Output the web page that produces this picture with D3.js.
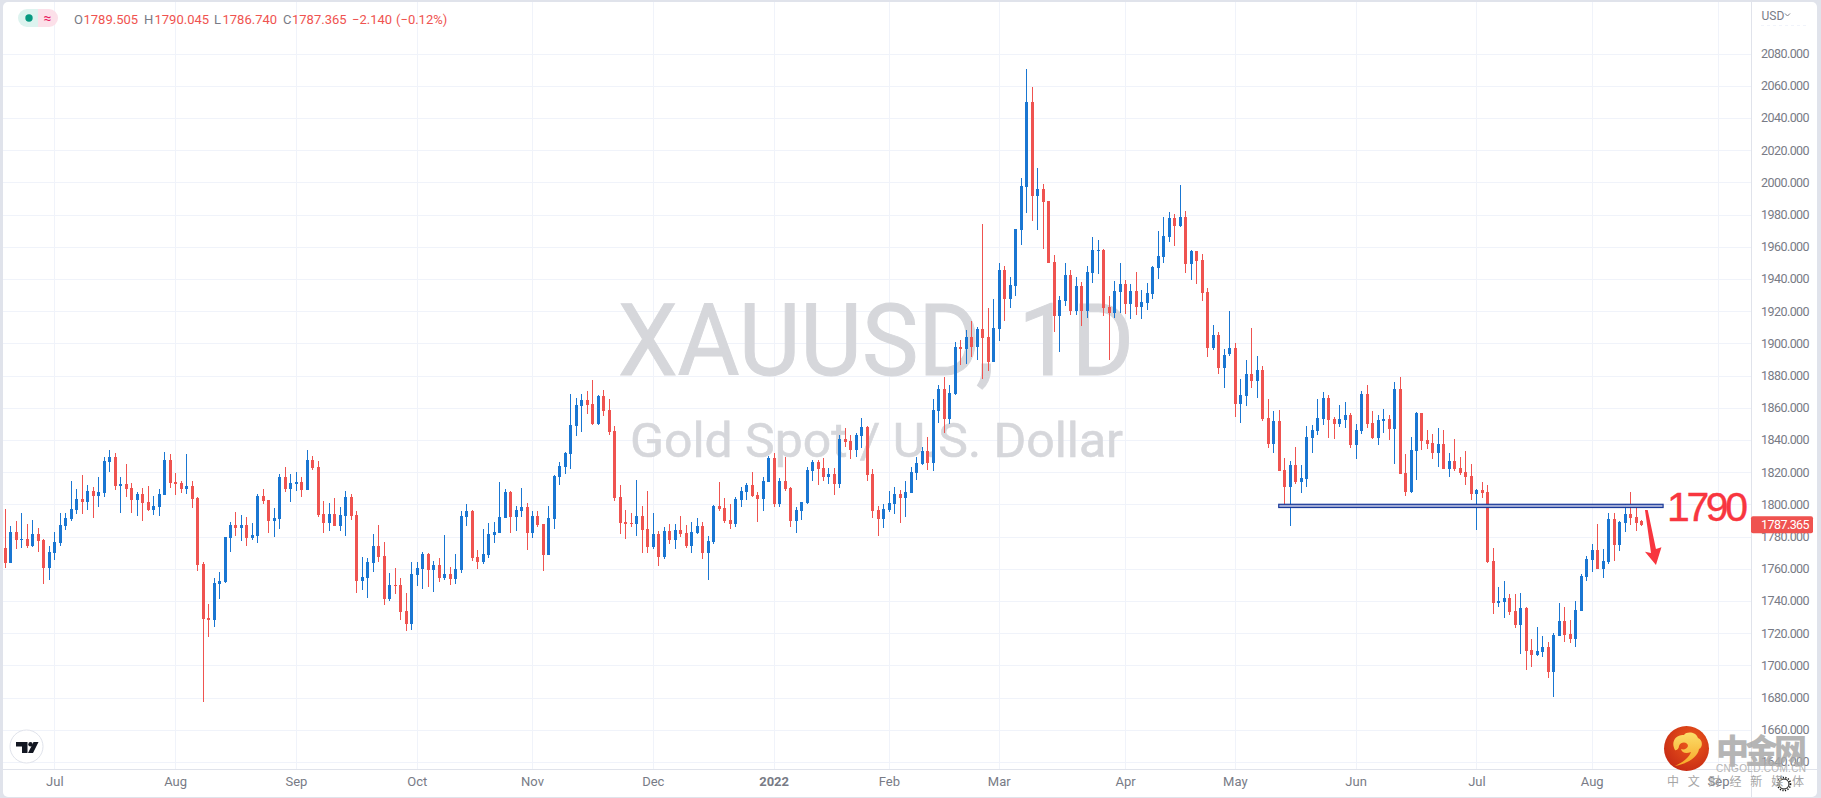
<!DOCTYPE html>
<html><head><meta charset="utf-8">
<script src="https://cdnjs.cloudflare.com/ajax/libs/d3/7.8.5/d3.min.js"></script>
<style>html,body{margin:0;padding:0;background:#E0E3EB;overflow:hidden}svg{display:block}text{font-family:Roboto,sans-serif}</style>
</head><body><svg id="c" width="1821" height="798"></svg>
<script>
const highs=[1797.1,1786.6,1789.7,1794.6,1787.8,1790.3,1785.3,1778.5,1774.1,1782.8,
1794.6,1794.6,1814.5,1809.5,1818.2,1812.0,1810.8,1817.0,1829.4,1833.8,
1831.9,1817.0,1825.1,1813.3,1807.7,1810.2,1811.4,1805.2,1809.5,1832.5,
1831.3,1819.5,1814.5,1831.3,1814.5,1804.6,1764.2,1738.1,1754.3,1758.0,
1779.7,1789.0,1795.3,1793.4,1792.1,1788.4,1806.4,1809.5,1802.7,1797.7,
1818.9,1823.2,1818.9,1820.1,1817.0,1833.8,1830.0,1826.9,1802.1,1800.8,
1804.0,1798.4,1808.3,1806.4,1795.9,1767.3,1766.6,1781.5,1787.1,1776.6,
1757.3,1760.4,1754.2,1744.9,1764.2,1764.2,1770.4,1769.7,1764.8,1766.6,
1780.9,1761.0,1769.1,1795.8,1800.2,1796.4,1771.6,1784.6,1788.4,1789.0,
1813.8,1809.5,1808.2,1798.9,1810.1,1800.8,1795.8,1795.8,1787.8,1798.9,
1818.2,1826.3,1832.5,1868.5,1866.0,1868.5,1870.3,1877.2,1867.9,1871.0,
1865.4,1848.6,1812.0,1796.4,1794.6,1815.1,1798.9,1808.2,1794.6,1783.4,
1785.9,1787.8,1787.8,1792.7,1787.1,1789.0,1791.5,1789.0,1780.3,1799.6,
1813.9,1803.9,1800.2,1804.5,1810.8,1813.2,1820.1,1807.6,1817.0,1830.0,
1831.9,1816.4,1829.4,1810.8,1798.3,1801.5,1823.2,1827.5,1827.5,1828.8,
1822.6,1822.6,1843.0,1847.4,1843.0,1844.3,1853.6,1848.6,1822.0,1799.0,
1800.2,1808.3,1810.8,1808.9,1814.5,1823.2,1829.4,1835.6,1841.8,1865.4,
1874.1,1879.1,1874.1,1900.8,1902.1,1908.3,1913.9,1910.2,1974.1,1922.0,
1927.6,1949.9,1948.1,1941.2,1971.0,2002.7,2070.4,2059.2,2008.9,1999.0,
1988.4,1954.9,1929.4,1949.9,1945.6,1941.2,1938.1,1948.1,1966.1,1964.2,
1958.6,1929.4,1938.7,1949.9,1939.4,1936.9,1944.3,1933.1,1937.5,1948.1,
1969.8,1978.5,1981.6,1980.4,1998.4,1982.1,1957.9,1957.3,1955.4,1934.3,
1911.3,1907.0,1896.4,1920.0,1900.2,1877.8,1889.6,1909.5,1892.1,1885.9,
1865.4,1857.9,1858.6,1828.8,1826.9,1835.6,1824.4,1848.6,1849.2,1865.4,
1869.7,1867.9,1854.2,1861.7,1863.5,1856.7,1849.9,1870.4,1874.1,1857.9,
1855.5,1859.2,1855.5,1876.0,1879.1,1831.2,1841.8,1857.3,1856.7,1846.1,
1843.7,1847.4,1846.1,1831.9,1840.6,1829.4,1833.1,1825.0,1809.5,1813.9,
1812.0,1772.9,1748.6,1752.4,1744.3,1744.3,1744.9,1736.2,1716.4,1723.8,
1718.2,1714.5,1720.1,1738.7,1736.2,1728.2,1740.0,1756.7,1767.9,1775.4,
1787.8,1772.2,1794.6,1794.6,1789.6,1800.2,1807.6,1799.0,1790.045];
const lows=[1760.7,1763.6,1772.3,1772.9,1772.9,1773.5,1770.4,1750.5,1753.0,1765.4,
1774.1,1784.1,1789.7,1794.0,1794.0,1796.5,1791.5,1798.4,1804.6,1820.1,
1808.9,1794.6,1804.6,1794.6,1792.8,1789.7,1795.9,1793.4,1792.8,1805.8,
1810.2,1805.8,1807.1,1806.4,1797.7,1758.6,1677.2,1717.6,1723.8,1741.2,
1751.2,1770.4,1780.4,1777.2,1774.1,1777.9,1776.0,1800.2,1782.2,1779.7,
1784.7,1807.7,1801.5,1808.3,1804.6,1808.9,1821.3,1792.1,1782.2,1783.5,
1786.6,1783.5,1780.4,1790.3,1744.9,1746.8,1741.8,1757.9,1764.2,1737.5,
1739.9,1744.3,1728.1,1721.3,1721.9,1749.3,1747.4,1748.6,1745.5,1751.7,
1753.0,1749.9,1750.5,1757.3,1786.5,1764.8,1759.8,1762.9,1766.6,1776.0,
1782.2,1791.5,1782.2,1783.4,1792.1,1771.6,1779.1,1785.9,1758.6,1768.5,
1784.6,1812.0,1818.8,1821.9,1842.4,1844.9,1856.1,1849.2,1849.2,1854.8,
1843.0,1802.0,1781.5,1778.4,1785.9,1780.3,1769.7,1769.7,1772.2,1761.7,
1766.0,1775.3,1772.2,1779.7,1772.9,1769.7,1781.5,1766.0,1753.0,1775.4,
1795.9,1788.4,1784.7,1785.9,1798.3,1802.7,1804.5,1789.0,1795.9,1813.9,
1798.3,1798.3,1808.3,1785.9,1782.2,1790.3,1800.2,1814.5,1812.0,1814.5,
1812.6,1805.8,1810.1,1835.6,1828.2,1829.4,1835.0,1814.5,1791.5,1780.3,
1785.3,1795.3,1794.0,1788.4,1792.1,1807.0,1815.1,1824.4,1821.3,1820.7,
1850.5,1844.3,1849.9,1867.9,1886.6,1887.2,1891.6,1889.7,1877.9,1882.9,
1888.4,1901.5,1913.9,1922.0,1929.4,1961.1,1981.0,1976.0,1970.4,1958.6,
1949.9,1907.1,1894.7,1923.2,1917.6,1917.6,1910.8,1915.8,1937.5,1943.1,
1917.0,1889.7,1915.8,1918.9,1918.3,1915.2,1917.6,1915.2,1920.7,1927.6,
1940.0,1949.9,1963.0,1960.5,1972.3,1943.6,1939.3,1936.8,1926.2,1891.5,
1895.8,1880.9,1872.2,1892.1,1854.2,1850.5,1861.0,1872.2,1866.0,1851.7,
1835.0,1831.9,1820.7,1799.6,1786.5,1812.6,1807.0,1810.7,1831.9,1843.0,
1849.2,1841.2,1840.5,1848.0,1847.4,1835.0,1828.1,1843.7,1847.4,1840.5,
1836.8,1844.3,1839.9,1825.0,1818.8,1805.2,1807.0,1815.1,1833.7,1834.3,
1828.1,1823.2,1821.9,1816.9,1820.7,1818.2,1812.0,1802.7,1784.0,1803.9,
1763.6,1731.9,1736.2,1729.4,1731.3,1723.2,1707.0,1697.1,1699.0,1705.8,
1705.2,1692.1,1680.3,1718.2,1714.5,1713.9,1711.4,1733.7,1752.4,1758.0,
1759.8,1754.2,1762.9,1764.8,1771.0,1782.8,1787.2,1783.4,1786.74];
const opens=[1772.9,1763.6,1782.8,1777.9,1778.5,1774.1,1781.6,1777.9,1760.5,1769.8,
1776.0,1786.6,1790.9,1796.5,1803.3,1801.5,1808.3,1805.2,1807.1,1826.3,
1829.4,1811.4,1812.7,1810.2,1802.7,1806.4,1801.5,1796.5,1798.4,1805.8,
1827.6,1813.9,1813.3,1809.5,1811.4,1804.0,1763.0,1729.4,1728.2,1750.5,
1751.8,1779.1,1787.2,1785.3,1787.2,1779.1,1780.4,1805.2,1802.7,1789.7,
1790.9,1817.0,1809.5,1812.7,1813.9,1808.9,1827.6,1823.2,1794.0,1788.4,
1794.0,1786.6,1792.8,1804.6,1793.4,1752.4,1754.2,1763.5,1774.1,1767.9,
1741.2,1749.9,1749.9,1733.7,1725.7,1756.1,1759.8,1769.1,1759.2,1762.3,
1754.2,1756.7,1753.6,1759.2,1792.1,1795.8,1767.3,1764.2,1768.5,1780.9,
1782.2,1791.5,1807.6,1792.1,1795.8,1798.3,1782.2,1792.7,1787.8,1768.5,
1790.9,1816.9,1823.2,1831.2,1848.6,1861.0,1864.8,1862.3,1849.9,1867.2,
1858.6,1845.5,1804.5,1789.0,1788.4,1787.8,1792.7,1784.6,1773.5,1781.5,
1767.3,1783.4,1777.8,1784.0,1782.2,1774.1,1782.2,1786.5,1769.7,1776.6,
1799.0,1797.7,1790.3,1787.8,1802.7,1807.6,1812.0,1805.8,1803.3,1813.9,
1828.8,1800.2,1814.5,1810.1,1789.6,1795.9,1800.8,1820.7,1826.3,1822.6,
1817.0,1818.8,1812.6,1840.6,1839.3,1833.7,1842.4,1848.0,1818.8,1796.5,
1790.9,1796.5,1800.2,1806.4,1803.9,1807.0,1819.5,1825.1,1833.1,1825.7,
1858.0,1871.6,1853.0,1868.5,1897.8,1896.5,1904.0,1897.8,1909.0,1904.0,
1888.4,1909.0,1945.6,1927.6,1935.6,1970.4,1997.1,2049.9,1991.5,1995.9,
1988.4,1950.6,1917.0,1926.3,1942.5,1920.1,1935.6,1920.1,1943.7,1957.4,
1958.0,1922.6,1918.9,1931.9,1936.9,1924.5,1932.5,1922.6,1925.1,1930.7,
1946.8,1953.6,1966.1,1977.9,1972.9,1978.4,1949.2,1957.3,1951.7,1931.8,
1897.1,1905.1,1884.6,1893.3,1897.1,1862.3,1867.3,1880.9,1876.6,1883.4,
1853.6,1837.4,1851.7,1821.3,1810.7,1824.4,1813.8,1815.7,1841.2,1845.5,
1853.0,1866.0,1853.0,1849.9,1852.4,1855.5,1836.8,1845.5,1868.5,1850.5,
1841.2,1851.7,1853.0,1846.8,1871.6,1819.4,1807.6,1833.1,1856.7,1840.0,
1838.1,1831.9,1837.4,1821.9,1826.9,1822.5,1820.0,1817.6,1806.4,1808.9,
1807.6,1764.8,1738.7,1739.3,1741.8,1733.7,1725.1,1735.6,1709.5,1706.4,
1708.3,1711.4,1695.9,1718.2,1727.5,1719.5,1716.4,1733.7,1754.9,1765.4,
1771.6,1759.8,1764.2,1790.9,1774.7,1788.4,1794.0,1792.1,1789.505];
const closes=[1763.6,1782.8,1777.9,1778.5,1774.1,1781.6,1777.2,1760.5,1770.4,1776.6,
1787.2,1791.5,1797.1,1803.3,1801.5,1808.3,1805.2,1807.7,1826.9,1829.4,
1811.4,1812.7,1809.5,1802.7,1806.4,1800.8,1796.5,1799.0,1806.4,1827.6,
1813.3,1812.7,1809.5,1811.4,1803.3,1762.3,1728.8,1728.2,1751.2,1752.4,
1779.7,1787.2,1785.3,1787.2,1779.1,1781.0,1805.2,1802.1,1789.7,1791.5,
1817.0,1809.5,1813.3,1813.9,1808.9,1827.6,1822.6,1793.4,1788.4,1794.0,
1786.6,1793.4,1804.6,1792.8,1752.4,1754.8,1764.2,1774.1,1767.3,1741.2,
1749.9,1749.3,1733.1,1725.7,1756.7,1760.4,1769.1,1759.2,1762.3,1754.2,
1756.7,1753.6,1759.8,1792.7,1795.8,1766.6,1764.2,1769.1,1781.5,1782.8,
1792.1,1807.6,1792.1,1796.4,1798.3,1782.2,1792.7,1787.1,1768.5,1791.5,
1817.6,1823.8,1831.9,1849.2,1861.7,1864.8,1861.7,1849.9,1867.2,1857.9,
1844.9,1803.9,1788.4,1787.8,1787.8,1792.7,1784.0,1773.5,1781.5,1767.3,
1783.4,1777.8,1784.0,1781.5,1774.1,1782.8,1786.5,1769.7,1777.2,1799.0,
1797.1,1789.6,1787.8,1803.3,1808.3,1812.0,1805.2,1803.3,1814.5,1828.8,
1800.2,1814.5,1809.5,1789.6,1796.5,1801.5,1821.3,1826.3,1821.9,1817.0,
1818.8,1812.6,1840.6,1838.7,1833.7,1843.0,1848.0,1818.2,1795.9,1790.9,
1797.1,1800.8,1806.4,1803.9,1807.6,1820.1,1825.7,1833.1,1825.7,1858.6,
1871.6,1853.0,1869.1,1897.7,1896.5,1904.0,1897.8,1909.0,1903.4,1888.4,
1909.6,1945.6,1927.6,1936.3,1971.0,1997.7,2049.9,1991.5,1995.9,1987.8,
1949.9,1917.0,1926.9,1942.5,1920.1,1935.6,1920.1,1944.3,1958.0,1958.0,
1922.0,1918.9,1932.5,1936.9,1924.5,1932.5,1922.6,1925.7,1931.3,1947.4,
1954.3,1966.7,1977.9,1972.9,1978.5,1949.2,1957.3,1951.1,1931.2,1897.1,
1905.1,1884.6,1893.0,1897.1,1862.3,1867.9,1880.9,1876.6,1883.4,1853.0,
1837.4,1851.7,1820.7,1810.7,1824.4,1813.8,1816.3,1841.8,1846.1,1853.6,
1866.0,1852.4,1849.9,1853.0,1855.5,1836.8,1846.1,1868.5,1849.9,1841.2,
1852.4,1853.0,1846.8,1871.6,1818.8,1807.6,1833.7,1856.7,1839.3,1837.4,
1831.9,1837.4,1821.9,1826.9,1821.9,1819.4,1816.9,1806.4,1808.9,1807.0,
1764.2,1738.7,1739.9,1741.8,1733.1,1725.1,1735.6,1708.9,1706.4,1708.9,
1711.4,1695.9,1718.8,1727.5,1718.8,1716.4,1734.4,1755.5,1766.0,1771.6,
1759.8,1764.8,1790.9,1774.7,1789.0,1794.0,1791.5,1788.4,1787.365];
const priceTicks=[1640,1660,1680,1700,1720,1740,1760,1780,1800,1820,1840,1860,1880,1900,1920,1940,1960,1980,2000,2020,2040,2060,2080];
const monthTickIndex=[9,31,53,75,96,118,140,161,181,204,224,246,268,289,312];
const monthTickLabel=["Jul","Aug","Sep","Oct","Nov","Dec","2022","Feb","Mar","Apr","May","Jun","Jul","Aug","Sep"];
const levelBox={from:232,to:302,top:1800,bottom:1798};
const arrowIndex=[298.7,299.2,300.7,301.7,300.7,298.7,299.8];
const arrowPrice=[1796.5,1796.5,1772.2,1773.4,1762.3,1770.6,1769.8];
const lastPrice=1787.365;

const UP="#1976D2",DOWN="#EF5350",GRID="#F0F3FA",AXIS="#E0E3EB",TXT="#787B86";
const plotR=1751,plotB=769,plotL=3,plotT=2;
const x=d3.scaleLinear().domain([9,312]).range([54.3,1718]);
const y=d3.scaleLinear().domain([1640,2080]).range([761.9,53.5]);
const svg=d3.select("#c");
const defs=svg.append("defs");
defs.append("clipPath").attr("id","plot").append("rect").attr("x",plotL).attr("y",plotT).attr("width",plotR-plotL).attr("height",plotB-plotT);
const lg=defs.append("radialGradient").attr("id","orb").attr("cx","60%").attr("cy","35%").attr("r","70%");
lg.append("stop").attr("offset","0%").attr("stop-color","#EE5A1C");
lg.append("stop").attr("offset","100%").attr("stop-color","#C62A14");
const yg=defs.append("linearGradient").attr("id","swirl").attr("x1","0").attr("y1","0").attr("x2","0").attr("y2","1");
yg.append("stop").attr("offset","0%").attr("stop-color","#FBDD6A");
yg.append("stop").attr("offset","100%").attr("stop-color","#F7A826");

svg.append("rect").attr("x",3).attr("y",2).attr("width",1814).attr("height",795).attr("rx",5).attr("fill","#fff");

const plot=svg.append("g").attr("clip-path","url(#plot)");
plot.append("g").selectAll("line").data(priceTicks).join("line")
 .attr("x1",plotL).attr("x2",plotR).attr("y1",d=>Math.round(y(d))+.5).attr("y2",d=>Math.round(y(d))+.5)
 .attr("stroke",GRID).attr("stroke-width",1);
plot.append("g").selectAll("line").data(monthTickIndex).join("line")
 .attr("y1",plotT).attr("y2",plotB).attr("x1",d=>Math.round(x(d))+.5).attr("x2",d=>Math.round(x(d))+.5)
 .attr("stroke",GRID).attr("stroke-width",1);
const wm=plot.append("g").attr("fill","#D6D7DB").style("font-family","'Noto Sans',sans-serif");
wm.append("text").attr("x",618).attr("y",375).attr("font-size",100).attr("stroke","#D6D7DB").attr("stroke-width",1).attr("textLength",516).attr("lengthAdjust","spacingAndGlyphs").text("XAUUSD, 1D");
wm.append("text").attr("x",630).attr("y",457).attr("font-size",49).attr("stroke","#D6D7DB").attr("stroke-width",.6).attr("textLength",493).attr("lengthAdjust","spacingAndGlyphs").text("Gold Spot / U.S. Dollar");
const idx=d3.range(highs.length);
const col=i=>closes[i]>=opens[i]?UP:DOWN;
const cx=i=>Math.round(x(i));
const g=plot.append("g");
g.selectAll("rect.w").data(idx).join("rect").attr("class","w")
 .attr("x",i=>cx(i)).attr("width",1)
 .attr("y",i=>Math.round(y(highs[i]))).attr("height",i=>Math.max(1,Math.round(y(lows[i]))-Math.round(y(highs[i]))))
 .attr("fill",col);
g.selectAll("rect.b").data(idx).join("rect").attr("class","b")
 .attr("x",i=>cx(i)-1).attr("width",3)
 .attr("y",i=>Math.round(y(Math.max(opens[i],closes[i])))).attr("height",i=>Math.max(1,Math.round(y(Math.min(opens[i],closes[i])))-Math.round(y(Math.max(opens[i],closes[i])))))
 .attr("fill",col);
svg.append("rect").attr("x",x(levelBox.from)).attr("width",x(levelBox.to)-x(levelBox.from))
 .attr("y",y(levelBox.top)).attr("height",y(levelBox.bottom)-y(levelBox.top))
 .attr("fill","#A4AED6").attr("stroke","#1B3A9A").attr("stroke-width",1.2);
svg.append("polygon").attr("points",arrowIndex.map((d,i)=>x(d)+","+y(arrowPrice[i])).join(" ")).attr("fill","#F8363F");
svg.append("text").attr("x",1667).attr("y",520.5).attr("font-size",41).attr("fill","#F8363F").attr("stroke","#F8363F").attr("stroke-width",.4).style("font-family","'Liberation Sans',sans-serif").attr("textLength",81).text("1790");

svg.append("line").attr("x1",plotR+.5).attr("x2",plotR+.5).attr("y1",2).attr("y2",797).attr("stroke",AXIS);
svg.append("line").attr("x1",3).attr("x2",1817).attr("y1",plotB+.5).attr("y2",plotB+.5).attr("stroke",AXIS);
const yAxis=d3.axisRight(y).tickValues(priceTicks).tickFormat(d3.format(".3f")).tickSize(0).tickPadding(10);
const ya=svg.append("g").attr("transform",`translate(${plotR},0)`).call(yAxis);
ya.select(".domain").remove();
ya.selectAll("text").attr("fill",TXT).style("font-family","Roboto,sans-serif").style("font-size","12.5px").style("letter-spacing","-0.55px");
const xAxis=d3.axisBottom(x).tickValues(monthTickIndex).tickFormat((d,i)=>monthTickLabel[i]).tickSize(0).tickPadding(8);
const xa=svg.append("g").attr("transform",`translate(0,${plotB})`).call(xAxis);
xa.select(".domain").remove();
xa.selectAll("text").attr("fill",TXT).style("font-family","Roboto,sans-serif").style("font-size","13px").style("font-weight",d=>d===140?700:400);
const ly=y(lastPrice);
svg.append("rect").attr("x",plotR).attr("y",ly-8.5).attr("width",62).attr("height",17).attr("rx",2).attr("fill",DOWN);
svg.append("text").attr("x",plotR+10).attr("y",ly+4.5).attr("fill","#fff").style("font-size","12.5px").style("letter-spacing","-0.55px").text(d3.format(".3f")(lastPrice));
svg.append("text").attr("x",1761.5).attr("y",19.5).attr("fill",TXT).style("font-size","12px").text("USD");
svg.append("path").attr("d","M1785 13.5l2.5 2.5 2.5-2.5").attr("fill","none").attr("stroke",TXT);
svg.append("line").attr("x1",1761).attr("x2",1806).attr("y1",25.5).attr("y2",25.5).attr("stroke","#F0F3FA").attr("stroke-dasharray","3 3");
svg.append("path").attr("d","M38 9H27a9 9 0 0 0 0 18H38Z").attr("fill","#DDF3EF");
svg.append("path").attr("d","M38 9H49a9 9 0 0 1 0 18H38Z").attr("fill","#FCE0E9");
svg.append("circle").attr("cx",29).attr("cy",18).attr("r",3.7).attr("fill","#089981");
svg.append("text").attr("x",47.5).attr("y",23).attr("text-anchor","middle").attr("fill","#E91E63").style("font-size","14px").text("≈");
const legendParts=[[74,"O",TXT],[83.5,"1789.505",DOWN],[144,"H",TXT],[154.5,"1790.045",DOWN],[214,"L",TXT],[222.5,"1786.740",DOWN],[283,"C",TXT],[292,"1787.365",DOWN],[352,"−2.140",DOWN],[396,"(−0.12%)",DOWN]];
svg.append("g").selectAll("text").data(legendParts).join("text").attr("x",d=>d[0]).attr("y",24).attr("fill",d=>d[2]).style("font-size","13px").text(d=>d[1]);
svg.append("circle").attr("cx",26.5).attr("cy",746.5).attr("r",16.5).attr("fill","#fff").attr("stroke","#E0E3EB");
svg.append("path").attr("d","M16 742h11.5v11h-5.5v-6.5h-6Z M33.5 742h5l-5.5 11h-5Z").attr("fill","#131722");
svg.append("circle").attr("cx",30.5).attr("cy",744.2).attr("r",2.2).attr("fill","#131722");
svg.append("circle").attr("cx",1784).attr("cy",784).attr("r",6.5).attr("fill","none").attr("stroke","#111").attr("stroke-width",1.6).attr("stroke-dasharray","1.2 1.4");
svg.append("circle").attr("cx",1784).attr("cy",784).attr("r",5).attr("fill","#fff").attr("stroke","#111").attr("stroke-width",1);
const site=svg.append("g");
site.append("circle").attr("cx",1686.5).attr("cy",748.5).attr("r",22.5).attr("fill","url(#orb)");
site.append("path").attr("d","M1675 750c-5-9 2-16 9-15 3-4 12-3 14 3 5 2 5 9 1 11-1 7-9 14-24 17 8-4 14-8 16-14-5 2-9 1-10-3 3 1 6 0 7-3 0-4-7-5-9 0 0 2-2 5-4 4Z").attr("fill","url(#swirl)");
site.append("text").attr("x",1716).attr("y",763).attr("fill","#A9A9A9").attr("opacity",.85).style("font-family","'Noto Sans CJK SC',sans-serif").style("font-weight",900).style("font-size","33px").attr("textLength",91).text("中金网");
site.append("text").attr("x",1716).attr("y",771.5).attr("fill","#B5B5B5").style("font-family","'Liberation Sans',sans-serif").style("font-size","10px").attr("textLength",90).text("CNGOLD.COM.CN");
site.append("text").attr("x",1667).attr("y",785.5).attr("fill","#A5A5A5").style("font-family","'Noto Sans CJK SC',sans-serif").style("font-size","12px").attr("textLength",137).text("中文财经新媒体");
</script></body></html>
